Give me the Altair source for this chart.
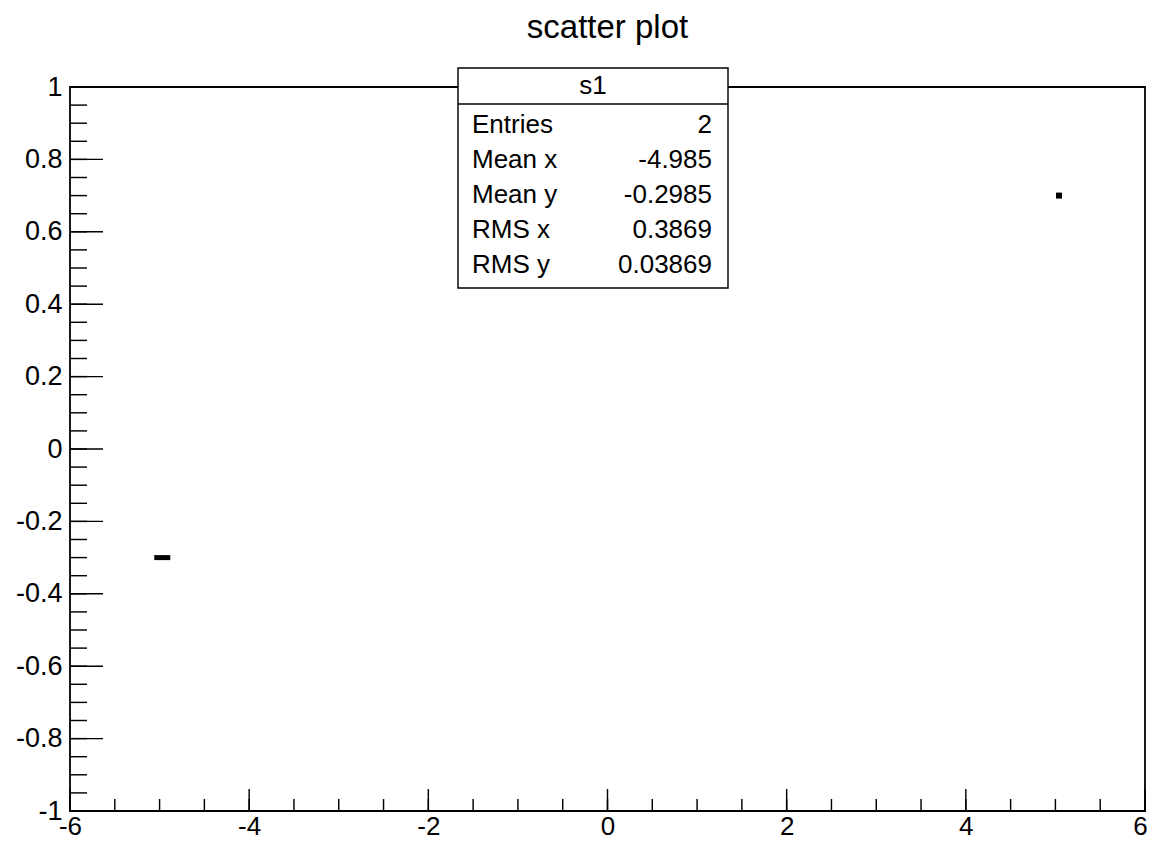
import altair as alt
import pandas as pd

# ---------------- data ----------------
title_text = "scatter plot"
point_x = [-4.97, 5.04]
point_y = [-0.30, 0.70]

x_major = [-6, -4, -2, 0, 2, 4, 6]
y_major = [-1, -0.8, -0.6, -0.4, -0.2, 0, 0.2, 0.4, 0.6, 0.8, 1]
x_minor = [round(-6 + 0.5 * i, 2) for i in range(25)]
y_minor = [round(-1 + 0.05 * i, 2) for i in range(41)]

stats_name = "s1"
stats_labels = ["Entries", "Mean x", "Mean y", "RMS x", "RMS y"]
stats_values = ["2", "-4.985", "-0.2985", "0.3869", "0.03869"]

# ---------------- layout ----------------
W, H = 1075, 724
FONT = "Liberation Sans"
LW = 1.8

xs = alt.Scale(domain=[-6, 6], nice=False, zero=False)
ys = alt.Scale(domain=[-1, 1], nice=False, zero=False)

x_axis = alt.Axis(values=x_major, labelExpr="'' + datum.value", labelPadding=2,
                  labelFontSize=26, labelFlush=False, labelOverlap=False,
                  labelOffset={"condition": {"test": "datum.value == 6", "value": -5},
                               "value": 0})
y_axis = alt.Axis(values=y_major, labelExpr="'' + datum.value", labelPadding=8,
                  labelFlush=False, labelOverlap=False)

pts = pd.DataFrame({"x": point_x, "y": point_y})

left_marker = alt.Chart(pts.iloc[[0]]).mark_point(
    shape="M-1,-0.3125H1V0.3125H-1Z", size=256, filled=True, color="black", opacity=1
).encode(
    x=alt.X("x:Q", scale=xs, axis=x_axis, title=None),
    y=alt.Y("y:Q", scale=ys, axis=y_axis, title=None),
)
right_marker = alt.Chart(pts.iloc[[1]]).mark_square(
    size=36, filled=True, color="black", opacity=1
).encode(
    x=alt.X("x:Q", scale=xs, title=None),
    y=alt.Y("y:Q", scale=ys, title=None),
)


def xticks(vals, length):
    return alt.Chart(pd.DataFrame({"x": vals})).mark_rule(
        color="black", strokeWidth=LW * 0.8
    ).encode(
        x=alt.X("x:Q", scale=xs, title=None),
        y=alt.value(H), y2=alt.value(H - length),
    )


def yticks(vals, length):
    return alt.Chart(pd.DataFrame({"y": vals})).mark_rule(
        color="black", strokeWidth=LW * 0.8
    ).encode(
        y=alt.Y("y:Q", scale=ys, title=None),
        x=alt.value(0), x2=alt.value(length),
    )


ticks = [xticks(x_minor, 12), xticks(x_major, 22), yticks(y_minor, 17), yticks(y_major, 33)]

# title
one = pd.DataFrame({"t": [title_text]})
title = alt.Chart(one).mark_text(
    font=FONT, fontSize=33, color="black", align="center", baseline="alphabetic"
).encode(x=alt.value(W / 2), y=alt.value(-49), text="t:N")

# stats box
BX0, BX1, BY0, BY1 = 388, 658, -19, 201
box = alt.Chart(pd.DataFrame({"a": [0]})).mark_rect(
    fill="white", stroke="black", strokeWidth=LW * 0.8
).encode(x=alt.value(BX0), x2=alt.value(BX1), y=alt.value(BY0), y2=alt.value(BY1))
sep = alt.Chart(pd.DataFrame({"a": [0]})).mark_rule(
    color="black", strokeWidth=LW * 0.8
).encode(x=alt.value(BX0), x2=alt.value(BX1), y=alt.value(17))
head = alt.Chart(pd.DataFrame({"t": [stats_name]})).mark_text(
    font=FONT, fontSize=26, color="black", align="center", baseline="middle"
).encode(x=alt.value((BX0 + BX1) / 2), y=alt.value(-1), text="t:N")

stat_layers = []
for i, (lab, val) in enumerate(zip(stats_labels, stats_values)):
    d = pd.DataFrame({"lab": [lab], "val": [val]})
    yy = 38 + 35 * i
    stat_layers.append(alt.Chart(d).mark_text(
        font=FONT, fontSize=26, color="black", align="left", baseline="middle"
    ).encode(x=alt.value(402), y=alt.value(yy), text="lab:N"))
    stat_layers.append(alt.Chart(d).mark_text(
        font=FONT, fontSize=26, color="black", align="right", baseline="middle"
    ).encode(x=alt.value(642), y=alt.value(yy), text="val:N"))

chart = alt.layer(
    left_marker, right_marker, *ticks, title, box, sep, head, *stat_layers
).properties(
    width=W, height=H,
    padding={"left": 62, "top": 79, "right": 2, "bottom": 31},
    autosize=alt.AutoSizeParams(type="none"),
    background="white",
).configure_view(
    stroke="black", strokeWidth=LW
).configure_axis(
    ticks=False, domain=False, grid=False, labelFont=FONT, labelFontSize=27,
    labelColor="black", title=None,
)

chart.save("out.html", embed_options={"renderer": "svg", "actions": False})
